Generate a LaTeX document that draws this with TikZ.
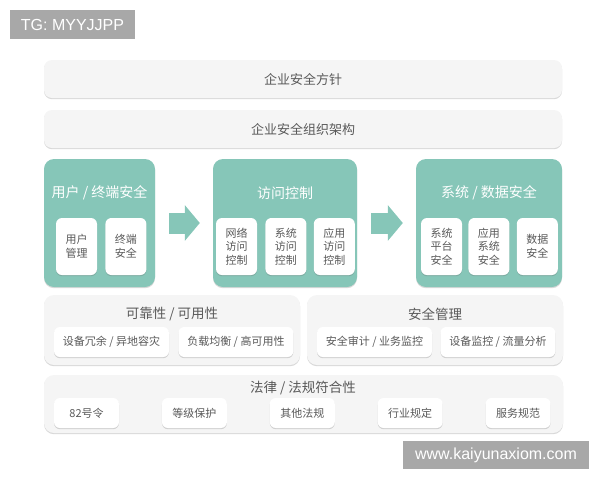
\documentclass[tikz,border=0pt]{standalone}
\usepackage{fontspec}
\newfontfamily\cjk{Noto Sans CJK SC}
\newfontfamily\wmfont{Liberation Sans}
\usetikzlibrary{positioning, shadows, arrows.meta}
\definecolor{tealbox}{HTML}{86C6B8}
\definecolor{panelgray}{HTML}{F5F5F5}
\definecolor{textgray}{HTML}{595959}
\definecolor{markgray}{HTML}{A8A8A8}

\begin{document}
\begin{tikzpicture}[
x=1pt, y=-1pt,
every node/.style={
    rectangle,
    align=center,
    inner sep=0pt,
    text=textgray,
    font=\cjk,
    },
softshadow/.style={
    drop shadow={shadow xshift=0pt, shadow yshift=-1.2pt,
                 opacity=.25, fill=black!60},
    },
bar/.style={
    softshadow, fill=panelgray, rounded corners=8pt,
    minimum width=518pt, minimum height=38pt,
    font=\cjk\fontsize{13}{15}\selectfont,
    },
panel/.style={
    softshadow, fill=panelgray, rounded corners=10pt,
    },
tealpanel/.style={
    softshadow, fill=tealbox, rounded corners=10pt,
    minimum height=128pt,
    },
inbox/.style={
    softshadow, fill=white, rounded corners=6pt,
    minimum width=41pt, minimum height=57pt,
    font=\cjk\fontsize{11}{13.5}\selectfont,
    },
wide/.style={
    softshadow, fill=white, rounded corners=6pt,
    minimum width=115pt, minimum height=30pt,
    font=\cjk\fontsize{11}{13}\selectfont,
    },
lawbox/.style={
    softshadow, fill=white, rounded corners=6pt,
    minimum width=65pt, minimum height=30pt,
    font=\cjk\fontsize{11}{13}\selectfont,
    },
heading/.style={font=\cjk\fontsize{13.5}{16}\selectfont},
tealhead/.style={font=\cjk\fontsize{14}{16}\selectfont, text=white},
fatarrow/.style={
    draw=tealbox, line width=21pt,
    -{Triangle[length=15pt, width=35pt]},
    shorten <=14pt, shorten >=13pt,
    },
wmark/.style={
    fill=markgray, text=white, font=\wmfont\fontsize{16}{18}\selectfont,
    },
]
\useasboundingbox (0,0) rectangle (600,480);

% watermark
\node[wmark, minimum width=125pt, minimum height=29pt] (tg) at (72.5,24.5) {TG: MYYJJPP};

% top bars
\node[bar] (policy) at (303,79) {企业安全方针};
\node[bar] (org) at (303,129) {企业安全组织架构};

% three teal blocks
\node[tealpanel, minimum width=111pt] (user) at (99.5,223) {};
\node[tealpanel, minimum width=144pt] (access) at (285,223) {};
\node[tealpanel, minimum width=146pt] (sys) at (489,223) {};
\node[tealhead] (userT) at (99.5,193) {用户 / 终端安全};
\node[tealhead] (accessT) at (285,193) {访问控制};
\node[tealhead] (sysT) at (489,193) {系统 / 数据安全};

\node[inbox] (um) at (76.5,246.5) {用户\\管理};
\node[inbox] (ue) [right=8pt of um] {终端\\安全};

\node[inbox] (an) at (236.5,246.5) {网络\\访问\\控制};
\node[inbox] (as) [right=8pt of an] {系统\\访问\\控制};
\node[inbox] (aa) [right=7pt of as] {应用\\访问\\控制};

\node[inbox] (sp) at (441.5,246.5) {系统\\平台\\安全};
\node[inbox] (sa) [right=6pt of sp] {应用\\系统\\安全};
\node[inbox] (sd) [right=7pt of sa] {数据\\安全};

\path (user) edge[fatarrow] (access)
      (access) edge[fatarrow] (sys);

% reliability / management
\node[panel, minimum width=256pt, minimum height=70pt] (rel) at (172,330) {};
\node[heading] (relT) at (172,314) {可靠性 / 可用性};
\node[wide] (r1) at (111.5,342) {设备冗余 / 异地容灾};
\node[wide] (r2) [right=9pt of r1] {负载均衡 / 高可用性};

\node[panel, minimum width=256pt, minimum height=70pt] (mgmt) at (435,330) {};
\node[heading] (mgmtT) at (435,314) {安全管理};
\node[wide] (m1) at (374.5,342) {安全审计 / 业务监控};
\node[wide] (m2) [right=8pt of m1] {设备监控 / 流量分析};

% compliance
\node[panel, minimum width=519pt, minimum height=58pt] (law) at (303.5,404) {};
\node[heading] (lawT) at (303,388) {法律 / 法规符合性};
\node[lawbox] (l1) at (86.5,413) {82号令};
\node[lawbox] (l2) [right=42.5pt of l1] {等级保护};
\node[lawbox] (l3) [right=42.5pt of l2] {其他法规};
\node[lawbox] (l4) [right=42.5pt of l3] {行业规定};
\node[lawbox] (l5) [right=42.5pt of l4] {服务规范};

\node[wmark, minimum width=186pt, minimum height=28pt] (site) at (496,455) {www.kaiyunaxiom.com};
\end{tikzpicture}
\end{document}
